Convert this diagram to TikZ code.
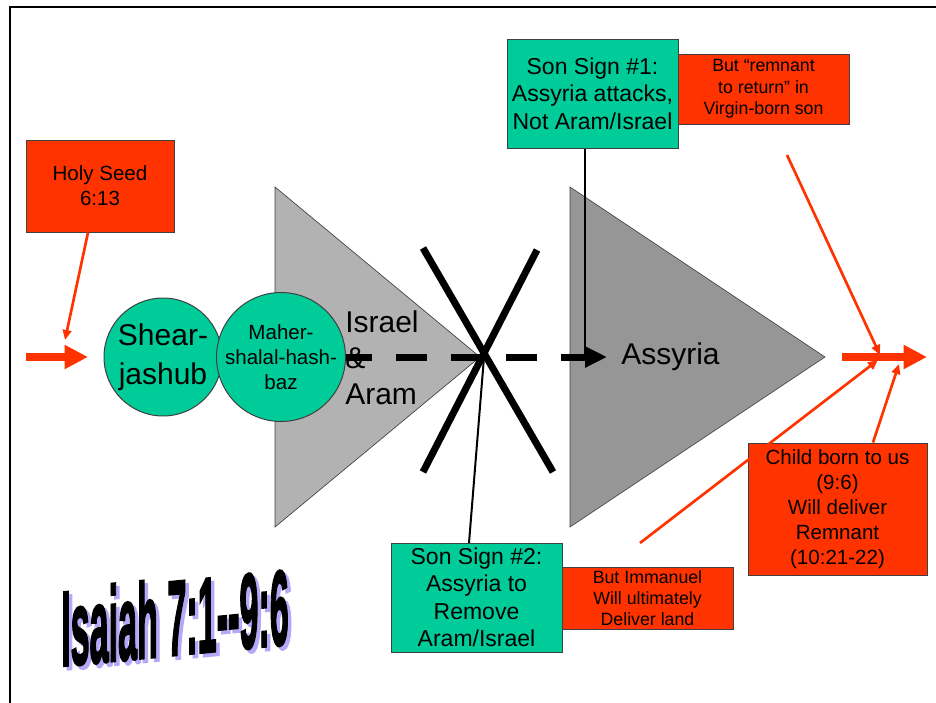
\documentclass[tikz,border=0pt]{standalone}
\usepackage{fontspec}
\setmainfont{Liberation Sans}
\newfontfamily\titlefam[FakeBold=2.5]{Liberation Sans Bold}
\usetikzlibrary{arrows.meta}
\definecolor{redbox}{HTML}{FF3300}
\definecolor{greenbox}{HTML}{00CC99}
\definecolor{grayA}{HTML}{B2B2B2}
\definecolor{grayB}{HTML}{969696}
\definecolor{lav}{HTML}{B4A9F8}
\begin{document}
\begin{tikzpicture}[x=0.75pt,y=-0.75pt,
  boxbase/.style={draw=black!75, line width=0.75pt, align=center, inner sep=0pt},
  redb/.style={boxbase, fill=redbox},
  greenb/.style={boxbase, fill=greenbox},
  greenc/.style={boxbase, circle, fill=greenbox, minimum size=88.5pt},
  tri/.style={draw=black!75, line width=0.5pt},
  fsmall/.style={font=\fontsize{13.3}{16}\selectfont},
  fmid/.style={font=\fontsize{15.4}{18.75}\selectfont},
  fson/.style={font=\fontsize{17.25}{20.6}\selectfont},
  fbig/.style={font=\fontsize{22.5}{27}\selectfont},
  redline/.style={draw=redbox, line width=2pt, -{Triangle[length=7.5pt,width=6.5pt]}},
  bigred/.style={draw=redbox, line width=6pt, -{Triangle[length=17.5pt,width=17pt]}},
  blackline/.style={draw=black, line width=2pt},
  xline/.style={draw=black, line width=5.25pt},
  titlestyle/.style={font=\titlefam\fontsize{80}{82}\selectfont, inner sep=0pt, yslant=0.096, xscale=0.32}
]
\useasboundingbox (0,0) rectangle (936,703);
% frame
\draw[line width=1.5pt] (10,703) -- (10,7) -- (936,7);

% triangles
\filldraw[tri, fill=grayA] (275,187) -- (480,357) -- (275,527) -- cycle;
\filldraw[tri, fill=grayB] (570,187) -- (825,357) -- (570,527) -- cycle;

% circles
\node[greenc, font=\fontsize{22.5}{29}\selectfont] (shear) at (163,357) {Shear-\\jashub};
\node[greenc, fmid] (maher) at (281,357) {Maher-\\shalal-hash-\\baz};

% triangle labels
\node[fbig, anchor=west, align=left, inner sep=0pt] (israel) at (345,358) {Israel\\\&\\Aram};
\node[fbig, anchor=west, inner sep=0pt] (assyria) at (621,357) {Assyria};

% boxes
\node[redb, fmid, minimum width=111pt, minimum height=69pt] (holy) at (100,186) {Holy Seed\\6:13};
\node[greenb, fson, minimum width=128.25pt, minimum height=81.75pt] (ss1) at (592.5,93.5) {Son Sign \#1:\\Assyria attacks,\\Not Aram/Israel};
\node[redb, fsmall, minimum width=128.25pt, minimum height=52.5pt] (remnant) at (763.5,89) {But “remnant\\to return” in\\Virgin-born son};
\node[greenb, fson, minimum width=128.25pt, minimum height=81.75pt] (ss2) at (476.5,597.5) {Son Sign \#2:\\Assyria to\\Remove\\Aram/Israel};
\node[redb, fsmall, minimum width=128.25pt, minimum height=46.5pt] (immanuel) at (647.5,598) {But Immanuel\\Will ultimately\\Deliver land};
\node[redb, fmid, minimum width=134.25pt, minimum height=99pt] (child) at (837.5,509) {Child born to us\\(9:6)\\Will deliver\\Remnant\\(10:21-22)};

% coordinates
\coordinate (ahead) at (607,357);
\coordinate (vend) at (585,357);
\coordinate (xc) at (484,357);
\coordinate (s2top) at (469,543);
\coordinate (h1) at (65,340);
\coordinate (rs1) at (787,155);
\coordinate (ra) at (880,355);
\coordinate (rs2) at (640,543);
\coordinate (rb) at (878,360);
\coordinate (rc) at (899,364);
\coordinate (lstart) at (26,357);
\coordinate (lend) at (88,357);
\coordinate (rstart) at (842,357);
\coordinate (rend) at (927,357);

% dashed main arrow
\draw[line width=5.25pt, dash pattern=on 23.25pt off 18pt, dash phase=3.75pt,
  -{Triangle[length=16.5pt,width=15pt]}] (maher.east) -- (ahead);

% X
\draw[xline] (423,248) -- (553,472);
\draw[xline] (537,250) -- (423,472);

% black connectors
\draw[blackline] (ss1.south -| vend) -- (vend);
\draw[draw=black, line width=1.5pt] (xc) -- (s2top);

% red arrows
\draw[redline] ([xshift=-9pt]holy.south) -- (h1);
\draw[redline] (rs1) -- (ra);
\draw[redline] (rs2) -- (rb);
\draw[redline] ([xshift=26.6pt]child.north) -- (rc);
\draw[bigred] (lstart) -- (lend);
\draw[bigred] (rstart) -- (rend);

% title
\node[titlestyle, text=lav] (titleshadow) at (178.5,620.5) {Isaiah 7:1-{}-9:6};
\node[titlestyle, text=black] (title) at (175,617) {Isaiah 7:1-{}-9:6};
\end{tikzpicture}
\end{document}
